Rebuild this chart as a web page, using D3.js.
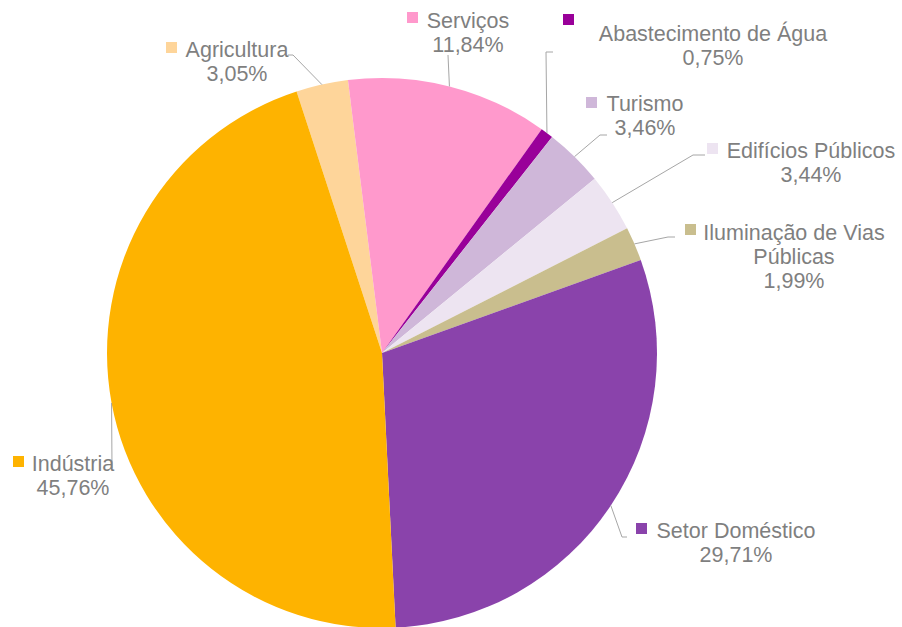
<!DOCTYPE html>
<html>
<head>
<meta charset="utf-8">
<script src="https://cdn.jsdelivr.net/npm/d3@7/dist/d3.min.js"></script>
<style>
  html, body { margin: 0; padding: 0; background: #ffffff; }
  svg { display: block; }
  text { font-family: "Liberation Sans", Arial, sans-serif; fill: #7f7f7f; }
</style>
</head>
<body>
<svg id="chart" width="902" height="627"></svg>
<script>
// Consumo de energia por setor (%)
const categories = [
  "Agricultura", "Serviços", "Abastecimento de Água", "Turismo",
  "Edifícios Públicos", "Iluminação de Vias Públicas", "Setor Doméstico", "Indústria"
];
const shares = [3.05, 11.84, 0.75, 3.46, 3.44, 1.99, 29.71, 45.76];
const shareLabels = ["3,05%", "11,84%", "0,75%", "3,46%", "3,44%", "1,99%", "29,71%", "45,76%"];
const nameLines = [
  ["Agricultura"], ["Serviços"], ["Abastecimento de Água"], ["Turismo"],
  ["Edifícios Públicos"], ["Iluminação de Vias", "Públicas"], ["Setor Doméstico"], ["Indústria"]
];
const colors = ["#fed59a", "#ff99cc", "#990099", "#cfb7d9", "#ede4f1", "#c9be8e", "#8a43ab", "#feb300"];

// Label placement: text centre, first baseline, legend key corner, leader points on the text side
const labelLayout = [
  { cx: 237, y: 57,  key: [166, 42],  lead: [[288, 55], [293, 55]] },
  { cx: 468, y: 28,  key: [407, 12],  lead: [[448, 55]] },
  { cx: 713, y: 41,  key: [563, 14],  lead: [[553, 52], [546, 52]] },
  { cx: 645, y: 111, key: [586, 97],  lead: [[607, 135], [600, 135]] },
  { cx: 811, y: 158, key: [707, 143], lead: [[705, 155], [693, 155]] },
  { cx: 794, y: 240, key: [685, 224], lead: [[675, 237], [668, 237]] },
  { cx: 736, y: 538, key: [636, 523], lead: [[627, 537], [622, 537]] },
  { cx: 73,  y: 471, key: [13, 456],  lead: [[112, 468]] }
];

const svg = d3.select("#chart");
const cx = 382, cy = 353, radius = 275;
const startDeg = -18.1;
const fontSize = 21.5, lineGap = 24, keySize = 11;

const data = categories.map((c, i) => ({ name: c, value: shares[i], i }));

const pie = d3.pie()
  .sort(null)
  .value(d => d.value)
  .startAngle(startDeg * Math.PI / 180)
  .endAngle(startDeg * Math.PI / 180 + 2 * Math.PI);

const arcs = pie(data);
const arc = d3.arc().innerRadius(0).outerRadius(radius);
const rim = d3.arc().innerRadius(radius).outerRadius(radius);

const g = svg.append("g").attr("transform", `translate(${cx},${cy})`);

g.selectAll("path.slice")
  .data(arcs)
  .join("path")
  .attr("class", "slice")
  .attr("d", arc)
  .attr("fill", d => colors[d.data.i]);

// Leader lines from each label to the rim at the slice's middle angle
const line = d3.line();
svg.selectAll("path.leader")
  .data(arcs)
  .join("path")
  .attr("class", "leader")
  .attr("d", d => {
    const [ex, ey] = rim.centroid(d);
    const pts = labelLayout[d.data.i].lead.concat([[cx + ex, cy + ey]]);
    return line(pts);
  })
  .attr("fill", "none")
  .attr("stroke", "#a6a6a6")
  .attr("stroke-width", 1);

// Labels: legend key, category name and percentage
const labels = svg.selectAll("g.label")
  .data(arcs)
  .join("g")
  .attr("class", "label");

labels.append("rect")
  .attr("x", d => labelLayout[d.data.i].key[0])
  .attr("y", d => labelLayout[d.data.i].key[1])
  .attr("width", keySize)
  .attr("height", keySize)
  .attr("fill", d => colors[d.data.i]);

labels.each(function(d) {
  const L = labelLayout[d.data.i];
  const lines = nameLines[d.data.i].concat([shareLabels[d.data.i]]);
  d3.select(this).selectAll("text")
    .data(lines)
    .join("text")
    .attr("x", L.cx)
    .attr("y", (t, k) => L.y + k * lineGap)
    .attr("text-anchor", "middle")
    .attr("font-size", fontSize)
    .text(t => t);
});
</script>
</body>
</html>
